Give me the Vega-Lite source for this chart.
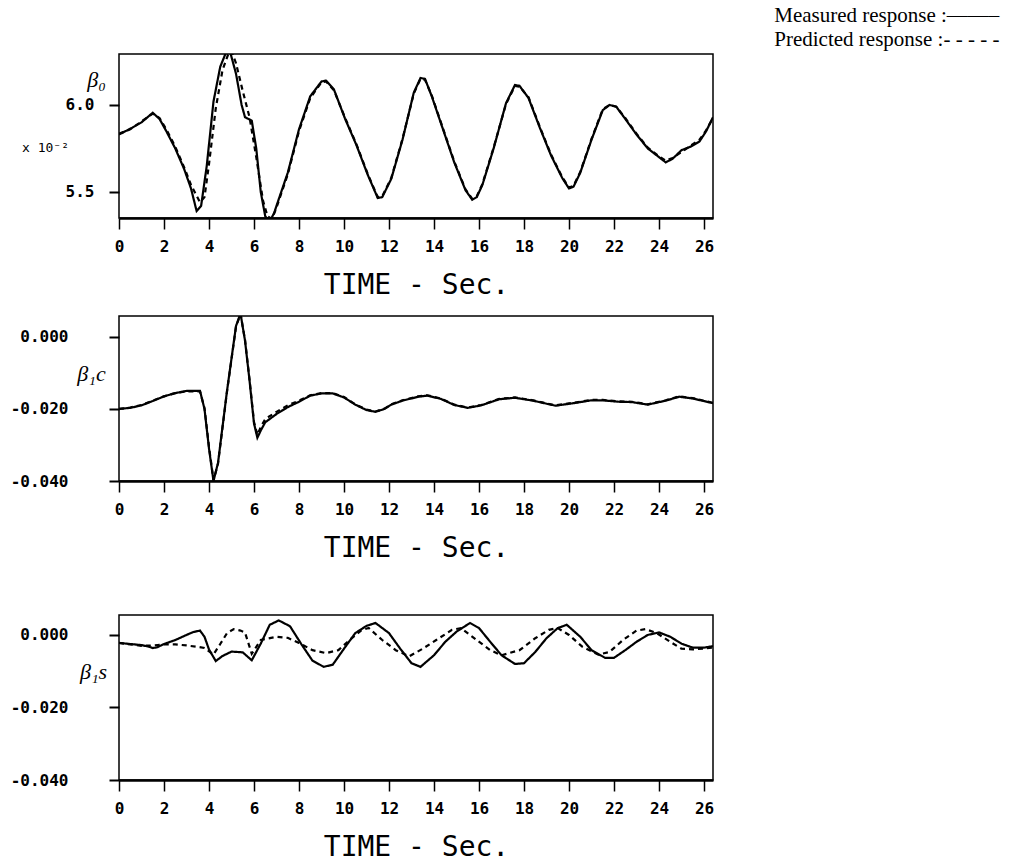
{
  "$schema": "https://vega.github.io/schema/vega-lite/v6.json",
  "padding": {"left": 9, "top": 5, "right": 5, "bottom": 2},
  "spacing": 15,
  "title": {"text": ["Measured response :——–", "Predicted response :- - - - -"], "anchor": "end", "align": "right", "frame": "bounds", "dx": 285, "offset": 3, "font": "Liberation Serif", "fontSize": 21, "fontWeight": "normal", "color": "black", "lineHeight": 24},
  "config": {
    "locale": {"number": {"decimal": ".", "thousands": ",", "grouping": [3], "currency": ["$", ""], "minus": "-"}},
    "view": {"stroke": "black", "strokeWidth": 1.5},
    "axis": {"grid": false, "domain": false, "tickColor": "black", "tickWidth": 2, "labelColor": "black", "titleColor": "black", "labelFont": "DejaVu Sans Mono", "labelFontWeight": "bold", "labelFontSize": 16, "titleFont": "DejaVu Sans Mono", "titleFontWeight": "normal", "titleFontSize": 28},
    "axisX": {"domain": true, "domainColor": "black", "domainWidth": 2.5, "tickSize": 11, "tickWidth": 1.5, "labelPadding": 9, "titlePadding": 17, "labelFlush": false, "labelOverlap": false},
    "axisY": {"tickSize": 10, "titleAngle": 0, "titleFont": "Liberation Serif", "titleFontStyle": "italic", "titleFontSize": 22, "titleAlign": "center", "titleBaseline": "middle"}
  },
  "datasets": {
    "b0": [
      {"t":0,"v":5.83,"s":"M"},{"t":0.3,"v":5.85,"s":"M"},{"t":0.6,"v":5.87,"s":"M"},{"t":1.0,"v":5.9,"s":"M"},{"t":1.5,"v":5.955,"s":"M"},{"t":1.8,"v":5.92,"s":"M"},{"t":2.1,"v":5.85,"s":"M"},{"t":2.5,"v":5.75,"s":"M"},{"t":2.9,"v":5.63,"s":"M"},{"t":3.2,"v":5.52,"s":"M"},{"t":3.45,"v":5.39,"s":"M"},{"t":3.65,"v":5.42,"s":"M"},{"t":3.9,"v":5.65,"s":"M"},{"t":4.2,"v":6.02,"s":"M"},{"t":4.5,"v":6.22,"s":"M"},{"t":4.75,"v":6.3,"s":"M"},{"t":4.95,"v":6.3,"s":"M"},{"t":5.2,"v":6.18,"s":"M"},{"t":5.45,"v":6.0,"s":"M"},{"t":5.6,"v":5.93,"s":"M"},{"t":5.9,"v":5.91,"s":"M"},{"t":6.1,"v":5.75,"s":"M"},{"t":6.3,"v":5.5,"s":"M"},{"t":6.5,"v":5.36,"s":"M"},{"t":6.7,"v":5.33,"s":"M"},{"t":6.9,"v":5.38,"s":"M"},{"t":7.0,"v":5.42,"s":"M"},{"t":7.5,"v":5.61,"s":"M"},{"t":8.0,"v":5.86,"s":"M"},{"t":8.5,"v":6.05,"s":"M"},{"t":9.0,"v":6.135,"s":"M"},{"t":9.2,"v":6.14,"s":"M"},{"t":9.55,"v":6.09,"s":"M"},{"t":10.05,"v":5.92,"s":"M"},{"t":10.55,"v":5.77,"s":"M"},{"t":11.05,"v":5.6,"s":"M"},{"t":11.5,"v":5.465,"s":"M"},{"t":11.7,"v":5.47,"s":"M"},{"t":12.1,"v":5.575,"s":"M"},{"t":12.6,"v":5.8,"s":"M"},{"t":13.1,"v":6.07,"s":"M"},{"t":13.4,"v":6.155,"s":"M"},{"t":13.6,"v":6.15,"s":"M"},{"t":13.9,"v":6.05,"s":"M"},{"t":14.4,"v":5.86,"s":"M"},{"t":14.9,"v":5.67,"s":"M"},{"t":15.4,"v":5.51,"s":"M"},{"t":15.7,"v":5.455,"s":"M"},{"t":15.9,"v":5.47,"s":"M"},{"t":16.15,"v":5.54,"s":"M"},{"t":16.65,"v":5.75,"s":"M"},{"t":17.2,"v":6.01,"s":"M"},{"t":17.6,"v":6.115,"s":"M"},{"t":17.8,"v":6.11,"s":"M"},{"t":18.2,"v":6.04,"s":"M"},{"t":18.7,"v":5.87,"s":"M"},{"t":19.2,"v":5.71,"s":"M"},{"t":19.7,"v":5.58,"s":"M"},{"t":20.0,"v":5.52,"s":"M"},{"t":20.2,"v":5.53,"s":"M"},{"t":20.5,"v":5.61,"s":"M"},{"t":21.0,"v":5.8,"s":"M"},{"t":21.5,"v":5.97,"s":"M"},{"t":21.8,"v":6.0,"s":"M"},{"t":22.1,"v":5.99,"s":"M"},{"t":22.5,"v":5.92,"s":"M"},{"t":23.0,"v":5.83,"s":"M"},{"t":23.5,"v":5.75,"s":"M"},{"t":24.0,"v":5.7,"s":"M"},{"t":24.3,"v":5.67,"s":"M"},{"t":24.6,"v":5.69,"s":"M"},{"t":25.0,"v":5.74,"s":"M"},{"t":25.4,"v":5.76,"s":"M"},{"t":25.8,"v":5.79,"s":"M"},{"t":26.1,"v":5.85,"s":"M"},{"t":26.4,"v":5.93,"s":"M"},
      {"t":0,"v":5.835,"s":"P"},{"t":0.5,"v":5.86,"s":"P"},{"t":1.0,"v":5.905,"s":"P"},{"t":1.5,"v":5.95,"s":"P"},{"t":1.8,"v":5.925,"s":"P"},{"t":2.1,"v":5.86,"s":"P"},{"t":2.5,"v":5.76,"s":"P"},{"t":2.9,"v":5.64,"s":"P"},{"t":3.2,"v":5.54,"s":"P"},{"t":3.6,"v":5.44,"s":"P"},{"t":3.8,"v":5.47,"s":"P"},{"t":4.0,"v":5.66,"s":"P"},{"t":4.3,"v":5.98,"s":"P"},{"t":4.6,"v":6.2,"s":"P"},{"t":4.85,"v":6.29,"s":"P"},{"t":5.0,"v":6.31,"s":"P"},{"t":5.2,"v":6.24,"s":"P"},{"t":5.5,"v":6.08,"s":"P"},{"t":5.8,"v":5.93,"s":"P"},{"t":6.1,"v":5.7,"s":"P"},{"t":6.4,"v":5.45,"s":"P"},{"t":6.6,"v":5.36,"s":"P"},{"t":6.8,"v":5.345,"s":"P"},{"t":7.0,"v":5.41,"s":"P"},{"t":7.5,"v":5.6,"s":"P"},{"t":8.0,"v":5.85,"s":"P"},{"t":8.5,"v":6.04,"s":"P"},{"t":9.0,"v":6.13,"s":"P"},{"t":9.2,"v":6.135,"s":"P"},{"t":9.55,"v":6.085,"s":"P"},{"t":10.05,"v":5.925,"s":"P"},{"t":10.55,"v":5.775,"s":"P"},{"t":11.05,"v":5.605,"s":"P"},{"t":11.5,"v":5.47,"s":"P"},{"t":11.7,"v":5.475,"s":"P"},{"t":12.1,"v":5.58,"s":"P"},{"t":12.6,"v":5.805,"s":"P"},{"t":13.1,"v":6.065,"s":"P"},{"t":13.4,"v":6.15,"s":"P"},{"t":13.6,"v":6.145,"s":"P"},{"t":13.9,"v":6.055,"s":"P"},{"t":14.4,"v":5.865,"s":"P"},{"t":14.9,"v":5.675,"s":"P"},{"t":15.4,"v":5.515,"s":"P"},{"t":15.7,"v":5.46,"s":"P"},{"t":15.9,"v":5.475,"s":"P"},{"t":16.15,"v":5.545,"s":"P"},{"t":16.65,"v":5.755,"s":"P"},{"t":17.2,"v":6.005,"s":"P"},{"t":17.6,"v":6.11,"s":"P"},{"t":17.8,"v":6.105,"s":"P"},{"t":18.2,"v":6.045,"s":"P"},{"t":18.7,"v":5.875,"s":"P"},{"t":19.2,"v":5.715,"s":"P"},{"t":19.7,"v":5.585,"s":"P"},{"t":20.0,"v":5.525,"s":"P"},{"t":20.2,"v":5.535,"s":"P"},{"t":20.5,"v":5.615,"s":"P"},{"t":21.0,"v":5.805,"s":"P"},{"t":21.5,"v":5.975,"s":"P"},{"t":21.8,"v":6.0,"s":"P"},{"t":22.1,"v":5.99,"s":"P"},{"t":22.5,"v":5.925,"s":"P"},{"t":23.0,"v":5.835,"s":"P"},{"t":23.5,"v":5.755,"s":"P"},{"t":24.0,"v":5.705,"s":"P"},{"t":24.3,"v":5.68,"s":"P"},{"t":24.6,"v":5.695,"s":"P"},{"t":25.0,"v":5.73,"s":"P"},{"t":25.4,"v":5.765,"s":"P"},{"t":25.8,"v":5.8,"s":"P"},{"t":26.1,"v":5.855,"s":"P"},{"t":26.4,"v":5.925,"s":"P"}
    ],
    "b1c": [
      {"t":0,"v":-0.02,"s":"M"},{"t":0.5,"v":-0.0197,"s":"M"},{"t":1.0,"v":-0.019,"s":"M"},{"t":1.5,"v":-0.0178,"s":"M"},{"t":2.0,"v":-0.0165,"s":"M"},{"t":2.5,"v":-0.0156,"s":"M"},{"t":3.0,"v":-0.015,"s":"M"},{"t":3.6,"v":-0.015,"s":"M"},{"t":3.8,"v":-0.02,"s":"M"},{"t":4.0,"v":-0.031,"s":"M"},{"t":4.2,"v":-0.04,"s":"M"},{"t":4.4,"v":-0.035,"s":"M"},{"t":4.6,"v":-0.025,"s":"M"},{"t":4.8,"v":-0.015,"s":"M"},{"t":5.0,"v":-0.006,"s":"M"},{"t":5.2,"v":0.003,"s":"M"},{"t":5.4,"v":0.0065,"s":"M"},{"t":5.6,"v":-0.001,"s":"M"},{"t":5.8,"v":-0.012,"s":"M"},{"t":6.0,"v":-0.024,"s":"M"},{"t":6.15,"v":-0.028,"s":"M"},{"t":6.3,"v":-0.026,"s":"M"},{"t":6.5,"v":-0.0237,"s":"M"},{"t":7.0,"v":-0.0214,"s":"M"},{"t":7.5,"v":-0.0195,"s":"M"},{"t":8.0,"v":-0.018,"s":"M"},{"t":8.5,"v":-0.0163,"s":"M"},{"t":9.0,"v":-0.0157,"s":"M"},{"t":9.5,"v":-0.0157,"s":"M"},{"t":10.0,"v":-0.0168,"s":"M"},{"t":10.5,"v":-0.0188,"s":"M"},{"t":11.0,"v":-0.0203,"s":"M"},{"t":11.4,"v":-0.0208,"s":"M"},{"t":11.8,"v":-0.02,"s":"M"},{"t":12.1,"v":-0.0188,"s":"M"},{"t":12.6,"v":-0.0177,"s":"M"},{"t":13.3,"v":-0.0166,"s":"M"},{"t":13.7,"v":-0.0163,"s":"M"},{"t":14.3,"v":-0.0172,"s":"M"},{"t":14.9,"v":-0.0189,"s":"M"},{"t":15.5,"v":-0.0197,"s":"M"},{"t":16.1,"v":-0.019,"s":"M"},{"t":16.9,"v":-0.0173,"s":"M"},{"t":17.6,"v":-0.0169,"s":"M"},{"t":18.4,"v":-0.0177,"s":"M"},{"t":19.4,"v":-0.0191,"s":"M"},{"t":20.2,"v":-0.0184,"s":"M"},{"t":21.0,"v":-0.0176,"s":"M"},{"t":21.5,"v":-0.0176,"s":"M"},{"t":22.2,"v":-0.018,"s":"M"},{"t":22.8,"v":-0.0181,"s":"M"},{"t":23.5,"v":-0.0188,"s":"M"},{"t":24.3,"v":-0.0177,"s":"M"},{"t":24.9,"v":-0.0166,"s":"M"},{"t":25.5,"v":-0.0171,"s":"M"},{"t":26.4,"v":-0.0184,"s":"M"},
      {"t":0,"v":-0.02,"s":"P"},{"t":0.5,"v":-0.0196,"s":"P"},{"t":1.0,"v":-0.0189,"s":"P"},{"t":1.5,"v":-0.0177,"s":"P"},{"t":2.0,"v":-0.0165,"s":"P"},{"t":2.5,"v":-0.0156,"s":"P"},{"t":3.0,"v":-0.0151,"s":"P"},{"t":3.6,"v":-0.0151,"s":"P"},{"t":3.8,"v":-0.0198,"s":"P"},{"t":4.0,"v":-0.0305,"s":"P"},{"t":4.2,"v":-0.0398,"s":"P"},{"t":4.4,"v":-0.0352,"s":"P"},{"t":4.6,"v":-0.0252,"s":"P"},{"t":4.8,"v":-0.0152,"s":"P"},{"t":5.0,"v":-0.0062,"s":"P"},{"t":5.2,"v":0.0028,"s":"P"},{"t":5.4,"v":0.0064,"s":"P"},{"t":5.6,"v":-0.0008,"s":"P"},{"t":5.8,"v":-0.0118,"s":"P"},{"t":6.0,"v":-0.0236,"s":"P"},{"t":6.15,"v":-0.0272,"s":"P"},{"t":6.3,"v":-0.025,"s":"P"},{"t":6.5,"v":-0.0228,"s":"P"},{"t":7.0,"v":-0.0208,"s":"P"},{"t":7.5,"v":-0.019,"s":"P"},{"t":8.0,"v":-0.0177,"s":"P"},{"t":8.5,"v":-0.0162,"s":"P"},{"t":9.0,"v":-0.0156,"s":"P"},{"t":9.5,"v":-0.0156,"s":"P"},{"t":10.0,"v":-0.0167,"s":"P"},{"t":10.5,"v":-0.0187,"s":"P"},{"t":11.0,"v":-0.0202,"s":"P"},{"t":11.4,"v":-0.0207,"s":"P"},{"t":11.8,"v":-0.0199,"s":"P"},{"t":12.1,"v":-0.0187,"s":"P"},{"t":12.6,"v":-0.0176,"s":"P"},{"t":13.3,"v":-0.0165,"s":"P"},{"t":13.7,"v":-0.0162,"s":"P"},{"t":14.3,"v":-0.0171,"s":"P"},{"t":14.9,"v":-0.0188,"s":"P"},{"t":15.5,"v":-0.0196,"s":"P"},{"t":16.1,"v":-0.0189,"s":"P"},{"t":16.9,"v":-0.0172,"s":"P"},{"t":17.6,"v":-0.0168,"s":"P"},{"t":18.4,"v":-0.0176,"s":"P"},{"t":19.4,"v":-0.019,"s":"P"},{"t":20.2,"v":-0.0183,"s":"P"},{"t":21.0,"v":-0.0175,"s":"P"},{"t":21.5,"v":-0.0175,"s":"P"},{"t":22.2,"v":-0.0179,"s":"P"},{"t":22.8,"v":-0.018,"s":"P"},{"t":23.5,"v":-0.0187,"s":"P"},{"t":24.3,"v":-0.0176,"s":"P"},{"t":24.9,"v":-0.0165,"s":"P"},{"t":25.5,"v":-0.017,"s":"P"},{"t":26.4,"v":-0.0183,"s":"P"}
    ],
    "b1s": [
      {"t":0,"v":-0.0022,"s":"M"},{"t":0.5,"v":-0.0025,"s":"M"},{"t":1.0,"v":-0.0028,"s":"M"},{"t":1.3,"v":-0.0032,"s":"M"},{"t":1.5,"v":-0.0036,"s":"M"},{"t":1.7,"v":-0.0034,"s":"M"},{"t":2.0,"v":-0.0025,"s":"M"},{"t":2.5,"v":-0.0014,"s":"M"},{"t":3.0,"v":0.0,"s":"M"},{"t":3.3,"v":0.0008,"s":"M"},{"t":3.6,"v":0.0012,"s":"M"},{"t":3.8,"v":-0.0005,"s":"M"},{"t":4.0,"v":-0.004,"s":"M"},{"t":4.3,"v":-0.0072,"s":"M"},{"t":4.6,"v":-0.0058,"s":"M"},{"t":5.0,"v":-0.0046,"s":"M"},{"t":5.5,"v":-0.0048,"s":"M"},{"t":5.9,"v":-0.007,"s":"M"},{"t":6.3,"v":-0.0024,"s":"M"},{"t":6.7,"v":0.0028,"s":"M"},{"t":7.1,"v":0.004,"s":"M"},{"t":7.6,"v":0.0024,"s":"M"},{"t":8.1,"v":-0.0025,"s":"M"},{"t":8.6,"v":-0.0071,"s":"M"},{"t":9.1,"v":-0.0088,"s":"M"},{"t":9.5,"v":-0.0082,"s":"M"},{"t":10.0,"v":-0.0038,"s":"M"},{"t":10.5,"v":0.0005,"s":"M"},{"t":11.0,"v":0.0025,"s":"M"},{"t":11.4,"v":0.0033,"s":"M"},{"t":12.0,"v":0.0005,"s":"M"},{"t":12.5,"v":-0.0038,"s":"M"},{"t":13.0,"v":-0.0078,"s":"M"},{"t":13.4,"v":-0.0088,"s":"M"},{"t":14.0,"v":-0.0056,"s":"M"},{"t":14.5,"v":-0.0019,"s":"M"},{"t":15.0,"v":0.0009,"s":"M"},{"t":15.6,"v":0.0033,"s":"M"},{"t":16.0,"v":0.0019,"s":"M"},{"t":16.5,"v":-0.0019,"s":"M"},{"t":17.0,"v":-0.0056,"s":"M"},{"t":17.6,"v":-0.008,"s":"M"},{"t":18.0,"v":-0.0078,"s":"M"},{"t":18.5,"v":-0.0047,"s":"M"},{"t":19.0,"v":-0.0009,"s":"M"},{"t":19.5,"v":0.0019,"s":"M"},{"t":19.9,"v":0.0028,"s":"M"},{"t":20.5,"v":-0.0005,"s":"M"},{"t":21.0,"v":-0.0042,"s":"M"},{"t":21.6,"v":-0.0063,"s":"M"},{"t":22.0,"v":-0.0063,"s":"M"},{"t":22.5,"v":-0.0042,"s":"M"},{"t":23.0,"v":-0.0019,"s":"M"},{"t":23.5,"v":0.0,"s":"M"},{"t":24.0,"v":0.0007,"s":"M"},{"t":24.5,"v":-0.0005,"s":"M"},{"t":25.0,"v":-0.0024,"s":"M"},{"t":25.5,"v":-0.0035,"s":"M"},{"t":26.0,"v":-0.0035,"s":"M"},{"t":26.4,"v":-0.0031,"s":"M"},
      {"t":0,"v":-0.0022,"s":"P"},{"t":0.5,"v":-0.0026,"s":"P"},{"t":1.0,"v":-0.003,"s":"P"},{"t":1.5,"v":-0.0029,"s":"P"},{"t":2.0,"v":-0.0026,"s":"P"},{"t":2.5,"v":-0.0026,"s":"P"},{"t":3.0,"v":-0.0029,"s":"P"},{"t":3.5,"v":-0.0033,"s":"P"},{"t":3.8,"v":-0.0036,"s":"P"},{"t":4.2,"v":-0.0054,"s":"P"},{"t":4.5,"v":-0.0025,"s":"P"},{"t":4.8,"v":0.0005,"s":"P"},{"t":5.1,"v":0.0016,"s":"P"},{"t":5.4,"v":0.0012,"s":"P"},{"t":5.6,"v":0.0007,"s":"P"},{"t":5.9,"v":-0.0052,"s":"P"},{"t":6.3,"v":-0.0014,"s":"P"},{"t":7.0,"v":-0.0005,"s":"P"},{"t":7.5,"v":-0.0008,"s":"P"},{"t":8.0,"v":-0.0022,"s":"P"},{"t":8.6,"v":-0.0042,"s":"P"},{"t":9.2,"v":-0.005,"s":"P"},{"t":9.75,"v":-0.0042,"s":"P"},{"t":10.25,"v":-0.0014,"s":"P"},{"t":10.8,"v":0.0014,"s":"P"},{"t":11.1,"v":0.0019,"s":"P"},{"t":11.7,"v":-0.0014,"s":"P"},{"t":12.3,"v":-0.0042,"s":"P"},{"t":12.9,"v":-0.0059,"s":"P"},{"t":13.5,"v":-0.0038,"s":"P"},{"t":14.1,"v":-0.0014,"s":"P"},{"t":14.8,"v":0.0014,"s":"P"},{"t":15.2,"v":0.0019,"s":"P"},{"t":15.9,"v":-0.0014,"s":"P"},{"t":16.5,"v":-0.0042,"s":"P"},{"t":17.0,"v":-0.0056,"s":"P"},{"t":17.8,"v":-0.0042,"s":"P"},{"t":18.5,"v":-0.0009,"s":"P"},{"t":19.1,"v":0.0014,"s":"P"},{"t":19.5,"v":0.0019,"s":"P"},{"t":20.0,"v":0.0,"s":"P"},{"t":20.6,"v":-0.0033,"s":"P"},{"t":21.3,"v":-0.0054,"s":"P"},{"t":21.8,"v":-0.0047,"s":"P"},{"t":22.4,"v":-0.0014,"s":"P"},{"t":23.0,"v":0.0012,"s":"P"},{"t":23.4,"v":0.0016,"s":"P"},{"t":23.9,"v":0.0005,"s":"P"},{"t":24.5,"v":-0.0019,"s":"P"},{"t":25.0,"v":-0.0038,"s":"P"},{"t":25.5,"v":-0.004,"s":"P"},{"t":26.4,"v":-0.0035,"s":"P"}
    ]
  },
  "vconcat": [
    {
      "width": 594, "height": 164,
      "data": {"name": "b0"},
      "encoding": {
        "x": {"field": "t", "type": "quantitative", "scale": {"domain": [0, 26.4], "nice": false, "zero": false}, "axis": {"values": [0,2,4,6,8,10,12,14,16,18,20,22,24,26], "title": "TIME - Sec."}},
        "strokeDash": {"field": "s", "type": "nominal", "scale": {"domain": ["M", "P"], "range": [[1, 0], [5, 4]]}, "legend": null}
      },
      "layer": [
        {
          "transform": [{"filter": "datum.s == 'M'"}],
          "mark": {"type": "line", "color": "black", "strokeWidth": 2.2, "clip": true},
          "encoding": {"y": {"field": "v", "type": "quantitative", "scale": {"domain": [5.35, 6.293], "nice": false, "zero": false}, "axis": {"values": [5.5, 6.0], "format": ".1f", "labelPadding": 15, "title": "β₀", "titleX": -23, "titleY": 25}}}
        },
        {
          "transform": [{"filter": "datum.s == 'P'"}],
          "mark": {"type": "line", "color": "black", "strokeWidth": 2.2, "clip": true},
          "encoding": {"y": {"field": "v", "type": "quantitative", "scale": {"domain": [5.35, 6.293], "nice": false, "zero": false}, "axis": {"orient": "left", "labels": false, "ticks": false, "domain": false, "title": "x 10⁻²", "titleX": -74, "titleY": 93, "titleFont": "DejaVu Sans Mono", "titleFontStyle": "normal", "titleFontSize": 13}}}
        }
      ],
      "resolve": {"axis": {"y": "independent"}}
    },
    {
      "width": 594, "height": 165,
      "data": {"name": "b1c"},
      "mark": {"type": "line", "color": "black", "strokeWidth": 2.2, "clip": true},
      "encoding": {
        "x": {"field": "t", "type": "quantitative", "scale": {"domain": [0, 26.4], "nice": false, "zero": false}, "axis": {"values": [0,2,4,6,8,10,12,14,16,18,20,22,24,26], "title": ["TIME - Sec.", ""], "titleLineHeight": 36}},
        "y": {"field": "v", "type": "quantitative", "scale": {"domain": [-0.04, 0.0058], "nice": false, "zero": false}, "axis": {"values": [-0.04, -0.02, 0], "format": ".3f", "labelPadding": 41, "title": "β₁c", "titleX": -28, "titleY": 57}},
        "strokeDash": {"field": "s", "type": "nominal", "scale": {"domain": ["M", "P"], "range": [[1, 0], [5, 4]]}, "legend": null}
      }
    },
    {
      "width": 594, "height": 165,
      "data": {"name": "b1s"},
      "mark": {"type": "line", "color": "black", "strokeWidth": 2.2, "clip": true},
      "encoding": {
        "x": {"field": "t", "type": "quantitative", "scale": {"domain": [0, 26.4], "nice": false, "zero": false}, "axis": {"values": [0,2,4,6,8,10,12,14,16,18,20,22,24,26], "title": "TIME - Sec."}},
        "y": {"field": "v", "type": "quantitative", "scale": {"domain": [-0.04, 0.0055], "nice": false, "zero": false}, "axis": {"values": [-0.04, -0.02, 0], "format": ".3f", "labelPadding": 41, "title": "β₁s", "titleX": -26, "titleY": 56}},
        "strokeDash": {"field": "s", "type": "nominal", "scale": {"domain": ["M", "P"], "range": [[1, 0], [5, 4]]}, "legend": null}
      }
    }
  ]
}
